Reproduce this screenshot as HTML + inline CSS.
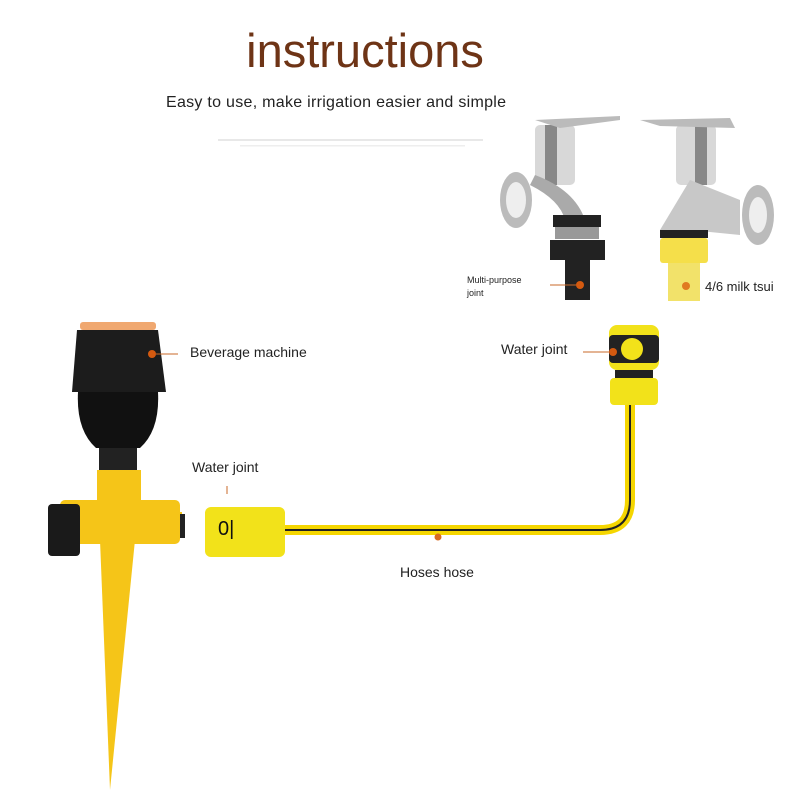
<!DOCTYPE html>
<html><head><style>
body{margin:0;width:800px;height:800px;background:#fff;overflow:hidden;font-family:"Liberation Sans",sans-serif}
</style></head><body>
<svg width="800" height="800" viewBox="0 0 800 800" xmlns="http://www.w3.org/2000/svg">
<text x="365" y="67" text-anchor="middle" font-size="47" fill="#6e3416" font-family="Liberation Sans">instructions</text>
<text x="336" y="107" text-anchor="middle" font-size="16" fill="#222" textLength="340">Easy to use, make irrigation easier and simple</text>
<rect x="218" y="139" width="265" height="2" fill="#e8e8e8"/>
<rect x="240" y="145" width="225" height="1.5" fill="#eee"/>
<g>
<ellipse cx="516" cy="200" rx="16" ry="28" fill="#bbb"/><ellipse cx="516" cy="200" rx="10" ry="18" fill="#eee"/>
<rect x="535" y="125" width="40" height="60" rx="5" fill="#d8d8d8"/><rect x="545" y="125" width="12" height="60" fill="#888"/>
<path d="M535 120 L620 116 L620 120 L560 128Z" fill="#bbb"/>
<path d="M530 185 Q560 200 565 220 L585 220 Q575 190 535 175Z" fill="#aaa"/>
<rect x="553" y="215" width="48" height="12" fill="#222"/><rect x="555" y="227" width="44" height="12" fill="#999"/>
<rect x="550" y="240" width="55" height="20" fill="#222"/>
<rect x="565" y="260" width="25" height="40" fill="#222"/>
<rect x="676" y="125" width="40" height="60" rx="5" fill="#d8d8d8"/><rect x="695" y="125" width="12" height="60" fill="#888"/>
<path d="M640 120 L730 118 L735 128 L660 126Z" fill="#bbb"/>
<ellipse cx="758" cy="215" rx="16" ry="30" fill="#bbb"/><ellipse cx="758" cy="215" rx="9" ry="18" fill="#eee"/>
<path d="M690 180 L740 200 L740 235 L690 230 L660 230Z" fill="#c8c8c8"/>
<rect x="660" y="230" width="48" height="8" fill="#222"/>
<rect x="660" y="238" width="48" height="25" rx="3" fill="#f5df4a"/>
<rect x="668" y="263" width="32" height="38" fill="#f2e26a"/>
<circle cx="580" cy="285" r="4" fill="#d45a10"/><line x1="550" y1="285" x2="576" y2="285" stroke="#c96a2a"/>
<circle cx="686" cy="286" r="4" fill="#e07a20"/>
</g>
<text x="467" y="283" font-size="9" fill="#222">Multi-purpose</text>
<text x="467" y="296" font-size="9" fill="#222">joint</text>
<text x="705" y="291" font-size="13" fill="#222">4/6 milk tsui</text>
<rect x="609" y="325" width="50" height="45" rx="8" fill="#f2e21a"/>
<rect x="609" y="335" width="50" height="28" rx="4" fill="#222"/>
<circle cx="632" cy="349" r="11" fill="#f2e21a"/>
<circle cx="613" cy="352" r="4" fill="#d45a10"/><line x1="583" y1="352" x2="609" y2="352" stroke="#c96a2a"/>
<rect x="615" y="370" width="38" height="8" fill="#222"/>
<rect x="610" y="378" width="48" height="27" rx="4" fill="#f2e21a"/>
<text x="501" y="354" font-size="14" fill="#222">Water joint</text>
<path d="M285 530 L600 530 Q630 530 630 500 L630 405" fill="none" stroke="#f5d600" stroke-width="10"/>
<path d="M285 530 L600 530 Q630 530 630 500 L630 405" fill="none" stroke="#222" stroke-width="2"/>
<circle cx="438" cy="537" r="3.5" fill="#d86a20"/>
<text x="400" y="577" font-size="14" fill="#222">Hoses hose</text>
<rect x="205" y="507" width="80" height="50" rx="6" fill="#f2e21a"/>
<text x="218" y="535" font-size="20" fill="#111">0|</text>
<line x1="227" y1="486" x2="227" y2="494" stroke="#c96a2a"/>
<text x="192" y="472" font-size="14" fill="#222">Water joint</text>
<path d="M110 790 L100 540 L135 540 Z" fill="#f5c518"/>
<rect x="80" y="322" width="76" height="8" rx="3" fill="#f0a870"/>
<path d="M77 330 L158 330 L166 392 L72 392 Z" fill="#1c1c1c"/>
<path d="M78 392 L158 392 Q160 430 140 448 L96 448 Q76 430 78 392Z" fill="#111"/>
<rect x="99" y="448" width="38" height="22" fill="#222"/>
<rect x="97" y="470" width="44" height="30" fill="#f5c518"/>
<rect x="60" y="500" width="120" height="44" rx="5" fill="#f5c518"/>
<rect x="48" y="504" width="32" height="52" rx="4" fill="#1a1a1a"/>
<rect x="170" y="512" width="12" height="26" fill="#f5c518"/>
<rect x="180" y="514" width="5" height="24" fill="#222"/>
<circle cx="152" cy="354" r="4" fill="#d45a10"/><line x1="156" y1="354" x2="178" y2="354" stroke="#c96a2a"/>
<text x="190" y="357" font-size="14" fill="#222">Beverage machine</text>
</svg>
</body></html>
